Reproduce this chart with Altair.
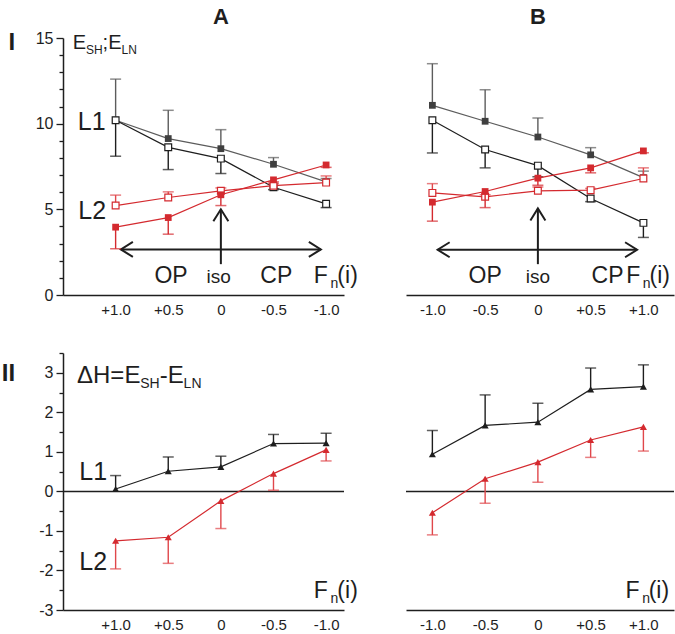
import altair as alt
import pandas as pd

FONT = "Liberation Sans"
INK = "#1e1e1e"
RED = "#d42a2f"
RED_LIGHT = "#e0474b"
GRAY_LINE = "#5c5c5c"
GRAY_FILL = "#3f3f3f"

# Load fraction F_n(i)
FN = [-1.0, -0.5, 0.0, 0.5, 1.0]

# ---- Row I: E_SH ; E_LN -------------------------------------------------
A_L1_filled = [6.60, 7.63, 8.54, 9.13, 10.20]
A_L1_filled_err = [6.80, 8.02, 9.65, 10.78, 12.60]
A_L1_open = [5.32, 6.29, 7.96, 8.62, 10.20]
A_L1_open_err = [5.10, 6.15, 7.09, 7.32, 8.10]
A_L2_filled = [7.59, 6.72, 5.85, 4.52, 3.96]
A_L2_filled_err = [7.45, 6.60, 5.22, 3.55, 2.70]
A_L2_open = [6.56, 6.38, 6.08, 5.69, 5.22]
A_L2_open_err = [6.95, 6.50, 6.25, 6.02, 5.83]

B_L1_filled = [11.07, 10.14, 9.22, 8.18, 6.85]
B_L1_filled_err = [13.50, 11.98, 10.33, 8.60, 7.23]
B_L1_open = [10.20, 8.49, 7.55, 5.63, 4.21]
B_L1_open_err = [8.29, 7.42, 6.90, 5.45, 3.36]
B_L2_filled = [5.42, 6.04, 6.82, 7.42, 8.41]
B_L2_filled_err = [4.31, 5.10, 6.40, 7.13, 8.30]
B_L2_open = [5.96, 5.73, 6.08, 6.12, 6.80]
B_L2_open_err = [6.50, 5.85, 6.30, 6.22, 7.42]

# ---- Row II: dH = E_SH - E_LN -------------------------------------------
A_dH_L1 = [1.22, 1.21, 0.62, 0.51, 0.06]
A_dH_L1_err = [1.47, 1.44, 0.89, 0.87, 0.40]
A_dH_L2 = [1.05, 0.45, -0.24, -1.16, -1.25]
A_dH_L2_err = [0.77, 0.03, -0.94, -1.82, -1.96]
B_dH_L1 = [0.94, 1.67, 1.75, 2.58, 2.65]
B_dH_L1_err = [1.54, 2.44, 2.23, 3.12, 3.20]
B_dH_L2 = [-0.54, 0.32, 0.74, 1.30, 1.63]
B_dH_L2_err = [-1.10, -0.30, 0.23, 0.86, 1.02]

# ---- Annotations (text, x, y, fontSize, align, weight) -------------------
A1_TEXT = [
    ("I", 1.955, 14.3, 24, "right", "bold"),
    ("A", 0.0, 15.84, 22, "center", "bold"),
    ("E", 1.408, 14.35, 20, "left", "normal"),
    ("SH", 1.282, 14.06, 12, "left", "normal"),
    (";", 1.124, 14.35, 20, "left", "normal"),
    ("E", 1.070, 14.35, 20, "left", "normal"),
    ("LN", 0.944, 14.06, 12, "left", "normal"),
    ("L1", 1.36, 9.62, 25, "left", "normal"),
    ("L2", 1.354, 4.43, 25, "left", "normal"),
    ("OP", 0.473, 0.68, 23, "center", "normal"),
    ("iso", 0.02, 0.68, 19, "center", "normal"),
    ("CP", -0.527, 0.68, 23, "center", "normal"),
    ("F", -0.883, 0.68, 23, "left", "normal"),
    ("n", -1.041, 0.38, 14, "left", "normal"),
    ("(i)", -1.107, 0.68, 23, "left", "normal"),
]
B1_TEXT = [
    ("B", 0.0, 15.84, 22, "center", "bold"),
    ("OP", -0.50, 0.68, 23, "center", "normal"),
    ("iso", 0.0, 0.68, 19, "center", "normal"),
    ("CP", 0.66, 0.68, 23, "center", "normal"),
    ("F", 0.837, 0.68, 23, "left", "normal"),
    ("n", 0.995, 0.38, 14, "left", "normal"),
    ("(i)", 1.058, 0.68, 23, "left", "normal"),
]
A2_TEXT = [
    ("II", 1.955, 2.80, 24, "right", "bold"),
    ("ΔH=E", 1.367, 2.75, 24, "left", "normal"),
    ("SH", 0.766, 2.62, 14, "left", "normal"),
    ("-E", 0.581, 2.75, 24, "left", "normal"),
    ("LN", 0.354, 2.62, 14, "left", "normal"),
    ("L1", 1.345, 0.30, 25, "left", "normal"),
    ("L2", 1.345, -1.98, 25, "left", "normal"),
    ("F", -0.883, -2.70, 23, "left", "normal"),
    ("n", -1.041, -2.83, 14, "left", "normal"),
    ("(i)", -1.107, -2.70, 23, "left", "normal"),
]
B2_TEXT = [
    ("F", 0.83, -2.70, 23, "left", "normal"),
    ("n", 0.99, -2.83, 14, "left", "normal"),
    ("(i)", 1.05, -2.70, 23, "left", "normal"),
]

# Arrows (OP <-> CP, iso up-arrow): (screen-left end, screen-right end, y) and (x, y from, y to)
A_ARROW_H = (0.95, -0.95, 2.66)
A_ARROW_V = (0.0, 1.8, 5.0)
B_ARROW_H = (-0.95, 0.94, 2.64)
B_ARROW_V = (0.0, 1.8, 5.05)

LEFT_HEAD = "M1.6,-1L0,0L1.6,1"
RIGHT_HEAD = "M-1.6,-1L0,0L-1.6,1"
UP_HEAD = "M-1,1.6L0,0L1,1.6"

X_LABEL_EXPR = ("datum.value == 1 ? '+1.0' : datum.value == 0.5 ? '+0.5' : "
                "datum.value == 0 ? '0' : datum.value == -0.5 ? '-0.5' : '-1.0'")


def make_encoders(xdom, rev, ydom, yaxis):
    xs = alt.Scale(domain=xdom, reverse=rev, nice=False, zero=False)
    ys = alt.Scale(domain=ydom, nice=False, zero=False)
    xaxis = alt.Axis(values=FN, labelExpr=X_LABEL_EXPR, ticks=False,
                     labelPadding=7, labelFontSize=15, grid=False,
                     domainWidth=1.5, domainColor=INK)

    def X(f):
        return alt.X(f"{f}:Q", scale=xs, axis=xaxis, title=None)

    def Y(f):
        return alt.Y(f"{f}:Q", scale=ys, axis=yaxis, title=None)

    return X, Y


def series(X, Y, vals, errs, line_color, err_color, kind, fill_color=None):
    df = pd.DataFrame({"F": FN, "v": vals, "e": errs})
    base = alt.Chart(df)
    layers = [
        base.mark_line(color=line_color, strokeWidth=1.2).encode(x=X("F"), y=Y("v")),
        base.mark_rule(color=err_color, strokeWidth=1.4).encode(x=X("F"), y=Y("v"), y2="e:Q"),
        base.mark_tick(color=err_color, orient="horizontal", size=11, thickness=1.5)
            .encode(x=X("F"), y=Y("e")),
    ]
    fc = fill_color or line_color
    if kind == "filled_sq":
        pm = base.mark_point(shape="square", filled=True, fill=fc, strokeWidth=0,
                             size=46, opacity=1)
    elif kind == "open_sq":
        pm = base.mark_point(shape="square", fill="white", stroke=line_color,
                             strokeWidth=1.2, size=46, opacity=1)
    else:
        pm = base.mark_point(shape="triangle-up", filled=True, fill=fc,
                             strokeWidth=0, size=50, opacity=1)
    layers.append(pm.encode(x=X("F"), y=Y("v")))
    return layers


def texts(X, Y, items):
    df = pd.DataFrame(items, columns=["t", "x", "y", "fs", "align", "weight"])
    out = []
    for (al, wt), g in df.groupby(["align", "weight"]):
        out.append(
            alt.Chart(g.reset_index(drop=True)).mark_text(
                align=al, baseline="alphabetic", fontWeight=wt, font=FONT, color=INK
            ).encode(x=X("x"), y=Y("y"), text="t:N",
                     size=alt.Size("fs:Q", scale=None, legend=None))
        )
    return out


def arrow_layers(X, Y, h, v):
    seg = pd.DataFrame({"x": [h[0], v[0]], "x2": [h[1], v[0]],
                        "y": [h[2], v[1]], "y2": [h[2], v[2]]})
    rule = alt.Chart(seg).mark_rule(color=INK, strokeWidth=2).encode(
        x=X("x"), x2="x2:Q", y=Y("y"), y2="y2:Q")

    def head(px, py, shape):
        df = pd.DataFrame({"x": [px], "y": [py]})
        return alt.Chart(df).mark_point(shape=shape, filled=False, stroke=INK,
                                        strokeWidth=2, size=225, opacity=1).encode(
            x=X("x"), y=Y("y"))

    return [rule, head(h[0], h[2], LEFT_HEAD), head(h[1], h[2], RIGHT_HEAD),
            head(v[0], v[2], UP_HEAD)]


def zero_line(Y):
    return alt.Chart(pd.DataFrame({"z": [0.0]})).mark_rule(
        color=INK, strokeWidth=1.5).encode(y=Y("z"))


yaxis_top = alt.Axis(values=list(range(0, 16)),
                     labelExpr="datum.value % 5 == 0 ? '' + datum.value : ''",
                     tickSize={"condition": {"test": "datum.value % 5 == 0", "value": 7}, "value": 4},
                     labelFontSize=16, labelPadding=3, grid=False,
                     domainWidth=1.5, domainColor=INK, tickColor=INK, tickWidth=1.3)
yaxis_bot = alt.Axis(values=[v / 2 for v in range(-6, 8)],
                     labelExpr="datum.value % 1 == 0 ? (datum.value < 0 ? '-' + abs(datum.value) : '' + datum.value) : ''",
                     tickSize={"condition": {"test": "datum.value % 1 == 0", "value": 7}, "value": 4},
                     labelFontSize=16, labelPadding=3, grid=False,
                     domainWidth=1.5, domainColor=INK, tickColor=INK, tickWidth=1.3)

W_A, W_B, H = 281, 268, 257

# Panel A, row I (reversed axis: +1 on the left)
X, Y = make_encoders([-1.17, 1.5], True, [0, 15], yaxis_top)
A1 = alt.layer(
    *arrow_layers(X, Y, A_ARROW_H, A_ARROW_V),
    *series(X, Y, A_L1_filled, A_L1_filled_err, GRAY_LINE, GRAY_LINE, "filled_sq", GRAY_FILL),
    *series(X, Y, A_L1_open, A_L1_open_err, INK, INK, "open_sq"),
    *series(X, Y, A_L2_open, A_L2_open_err, RED, RED_LIGHT, "open_sq"),
    *series(X, Y, A_L2_filled, A_L2_filled_err, RED, RED, "filled_sq"),
    *texts(X, Y, A1_TEXT),
).properties(width=W_A, height=H)

X, Y = make_encoders([-1.25, 1.29], False, [0, 15], None)
B1 = alt.layer(
    *arrow_layers(X, Y, B_ARROW_H, B_ARROW_V),
    *series(X, Y, B_L1_filled, B_L1_filled_err, GRAY_LINE, GRAY_LINE, "filled_sq", GRAY_FILL),
    *series(X, Y, B_L1_open, B_L1_open_err, INK, INK, "open_sq"),
    *series(X, Y, B_L2_open, B_L2_open_err, RED, RED_LIGHT, "open_sq"),
    *series(X, Y, B_L2_filled, B_L2_filled_err, RED, RED, "filled_sq"),
    *texts(X, Y, B1_TEXT),
).properties(width=W_B, height=H)

X, Y = make_encoders([-1.17, 1.5], True, [-3, 3.5], yaxis_bot)
A2 = alt.layer(
    zero_line(Y),
    *series(X, Y, A_dH_L1, A_dH_L1_err, INK, INK, "tri"),
    *series(X, Y, A_dH_L2, A_dH_L2_err, RED, RED_LIGHT, "tri", RED),
    *texts(X, Y, A2_TEXT),
).properties(width=W_A, height=H)

X, Y = make_encoders([-1.25, 1.29], False, [-3, 3.5], None)
B2 = alt.layer(
    zero_line(Y),
    *series(X, Y, B_dH_L1, B_dH_L1_err, INK, INK, "tri"),
    *series(X, Y, B_dH_L2, B_dH_L2_err, RED, RED_LIGHT, "tri", RED),
    *texts(X, Y, B2_TEXT),
).properties(width=W_B, height=H)

chart = alt.ConcatChart(
    concat=[A1, B1, A2, B2], columns=2,
    spacing=alt.RowColnumber(row=58, column=62),
    bounds="flush", align="each",
).properties(
    padding={"left": 1, "top": 5, "right": 0, "bottom": 0}
).configure_view(stroke=None).configure_axis(
    labelFont=FONT, labelColor=INK
)

chart.save("out.html", embed_options={"renderer": "svg", "actions": False})
